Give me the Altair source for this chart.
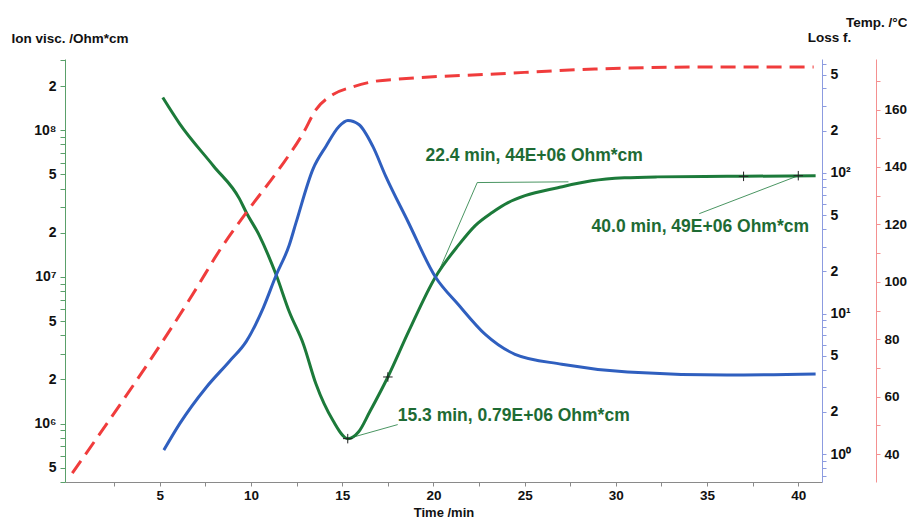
import altair as alt
import pandas as pd

# ---- data ----
# Ion viscosity (green, left log axis)
visc_t = [5.16, 6.08, 7.94, 9.36, 9.74, 10.45, 10.94, 11.38, 12.09, 12.87, 13.56, 14.49, 15.31,
          15.9, 16.5, 17.5, 18.64, 20.11, 21.36, 22.29, 23.22, 24.09, 25.02, 26.82, 28.67, 30.47,
          32.27, 36.09, 40.95]
visc_v = [1.67e8, 1.11e8, 5.71e7, 3.42e7, 2.75e7, 1.92e7, 1.41e7, 1.03e7, 5.81e6, 3.48e6, 1.86e6,
          1.05e6, 7.9e5, 8.8e5, 1.2e6, 2.08e6, 4.25e6, 1.0e7, 1.64e7, 2.24e7, 2.75e7, 3.21e7,
          3.58e7, 4.06e7, 4.52e7, 4.74e7, 4.81e7, 4.85e7, 4.89e7]

# Loss factor (blue, right log axis)
loss_t = [5.22, 6.09, 7.56, 8.82, 9.74, 10.67, 11.38, 12.09, 12.47, 13.40, 14.11, 14.82, 15.31,
          15.91, 16.67, 17.38, 18.6, 20.11, 21.36, 22.84, 24.47, 27.03, 30.64, 36.09, 40.95]
loss_v = [1.07, 1.65, 3.01, 4.59, 6.35, 11.0, 18.8, 30.6, 44.5, 107, 155, 214, 236,
          221, 155, 95, 45.2, 18.2, 11.6, 7.11, 5.14, 4.37, 3.85, 3.66, 3.72]

# Temperature (red dashed, outer right axis)
temp_t = [0.2, 7.02, 8.21, 9.74, 11.54, 12.85, 13.56, 14.49, 15.58, 16.67, 18.31, 23.38, 28.84, 34.29, 40.84]
temp_v = [33.4, 97.9, 110.3, 124.1, 139.3, 151.7, 160.0, 165.2, 167.9, 169.7, 170.7, 172.4, 174.1, 174.8, 174.8]

# cursor markers on the ion viscosity curve
mark_t = [15.3, 17.5, 37.0, 40.0]
mark_v = [7.9e5, 2.08e6, 4.85e7, 4.9e7]

# leader lines of the annotations
lead_id = [1, 1, 2, 2, 2, 3, 3]
lead_t = [15.3, 18.04, 20.16, 22.4, 27.4, 34.57, 40.0]
lead_v = [7.9e5, 9.85e5, 1.0e7, 4.4e7, 4.45e7, 2.7e7, 4.9e7]

# annotation texts
ann_text = ["15.3 min, 0.79E+06 Ohm*cm", "22.4 min, 44E+06 Ohm*cm", "40.0 min, 49E+06 Ohm*cm"]
ann_t = [18.04, 19.56, 28.67]
ann_v = [1.13e6, 6.67e7, 2.18e7]

x_ticks = [2.5 * i for i in range(1, 17)]
temp_ticks = list(range(30, 180, 10))

# ---- frames ----
visc_df = pd.DataFrame({"t": visc_t, "v": visc_v})
loss_df = pd.DataFrame({"t": loss_t, "v": loss_v})
temp_df = pd.DataFrame({"t": temp_t, "v": temp_v})
mark_df = pd.DataFrame({"t": mark_t, "v": mark_v})
lead_df = pd.DataFrame({"id": lead_id, "t": lead_t, "v": lead_v, "o": list(range(len(lead_t)))})
ann_df = pd.DataFrame({"t": ann_t, "v": ann_v, "label": ann_text})

FONT = "Liberation Sans"
GREEN = "#1c7a3a"
TEXTGREEN = "#1e6b34"
BLUE = "#2f5fbf"
RED = "#f03c3c"
LBL = dict(labelFont=FONT, labelFontSize=14, labelFontWeight="bold", labelColor="#111",
           titleFont=FONT, titleFontSize=13.5, titleFontWeight="bold", titleColor="#111")

E = "floor(log(datum.value)/LN10 + 0.000001)"
M = f"round(datum.value / pow(10, {E}))"
log_label = (f"{M} == 1 ? '10' + substring('⁰¹²³⁴⁵⁶⁷⁸⁹', {E}, {E} + 1) : "
             f"(({M} == 2 || {M} == 5) ? toString({M}) : '')")

vmin, vmax = 4.0e5, 3.06e8
left_ticks = [m * 10 ** e for e in range(5, 9) for m in range(1, 10) if vmin <= m * 10 ** e <= vmax]
lmin, lmax = 0.635, 646
loss_ticks = [m * 10 ** e for e in range(-1, 3) for m in range(1, 10) if lmin <= m * 10 ** e <= lmax]

x_lbl = dict(LBL)
x_lbl["labelFontSize"] = 13.5
x_lbl["titleFontSize"] = 13
x_enc = alt.X("t:Q", scale=alt.Scale(domain=[-0.2, 41.3], nice=False, zero=False),
              axis=alt.Axis(values=x_ticks, labelExpr="datum.value % 5 == 0 ? datum.value : ''",
                            title="Time /min", titleY=37, titleBaseline="bottom",
                            tickSize=4, labelPadding=2, domainColor="#8a8a8a", tickColor="#8a8a8a",
                            grid=False, labelFlush=False, labelOverlap=False, **x_lbl))

left_axis = alt.Axis(values=left_ticks, labelExpr=log_label, orient="left",
                     title="Ion visc. /Ohm*cm", titleAngle=0, titleAlign="left",
                     titleBaseline="middle", titleX=-54, titleY=-21,
                     domainColor="#5aa06a", tickColor="#5aa06a", tickSize=5, labelPadding=4,
                     grid=False, labelOverlap=False, labelFlush=False, **LBL)
left_y = alt.Y("v:Q", scale=alt.Scale(type="log", domain=[vmin, vmax], nice=False), axis=left_axis)

green_line = alt.Chart(visc_df).mark_line(color=GREEN, strokeWidth=3, interpolate="monotone").encode(
    x=x_enc, y=left_y)
leaders = alt.Chart(lead_df).mark_line(color=GREEN, strokeWidth=0.8).encode(
    x=x_enc, y=left_y, detail="id:N", order="o:Q")
markers = alt.Chart(mark_df).mark_point(shape="M-1,0L1,0M0,-1L0,1", size=90, color="#222",
                                        strokeWidth=1, filled=False, opacity=1).encode(x=x_enc, y=left_y)
texts = alt.Chart(ann_df).mark_text(align="left", baseline="middle", font=FONT, fontSize=17.5,
                                    fontWeight="bold", color=TEXTGREEN).encode(
    x=x_enc, y=left_y, text="label:N")

green_group = alt.layer(green_line, leaders, markers, texts)

blue_axis = alt.Axis(values=loss_ticks, labelExpr=log_label, orient="right", title="Loss f.",
                     titleAngle=0, titleAlign="center", titleBaseline="middle", titleX=7, titleY=-22,
                     domainColor="#8c9be0", tickColor="#8c9be0", tickSize=4, labelPadding=4,
                     grid=False, labelOverlap=False, labelFlush=False, **LBL)
blue_line = alt.Chart(loss_df).mark_line(color=BLUE, strokeWidth=3, interpolate="monotone").encode(
    x=x_enc,
    y=alt.Y("v:Q", scale=alt.Scale(type="log", domain=[lmin, lmax], nice=False), axis=blue_axis))

red_lbl = dict(LBL)
red_lbl["labelFontSize"] = 13.5
red_axis = alt.Axis(values=temp_ticks, labelExpr="datum.value % 20 == 0 ? datum.value : ''",
                    orient="right", offset=54, title="Temp. /°C", titleAngle=0, titleAlign="right",
                    titleBaseline="middle", titleX=31, titleY=-37,
                    domainColor="#f49090", tickColor="#f49090", tickSize=4, labelPadding=4,
                    grid=False, labelOverlap=False, labelFlush=False, **red_lbl)
red_line = alt.Chart(temp_df).mark_line(color=RED, strokeWidth=3, strokeDash=[15, 8],
                                        interpolate="monotone").encode(
    x=x_enc,
    y=alt.Y("v:Q", scale=alt.Scale(domain=[30.3, 177.6], nice=False, zero=False), axis=red_axis))

chart = alt.layer(green_group, blue_line, red_line).resolve_scale(y="independent").properties(
    width=757, height=423,
    autosize=alt.AutoSizeParams(type="none"),
    padding={"left": 57, "top": 51, "right": 85, "bottom": 37},
).configure(background="white").configure_view(stroke=None)

chart.save("out.html", embed_options={"renderer": "svg", "actions": False})
